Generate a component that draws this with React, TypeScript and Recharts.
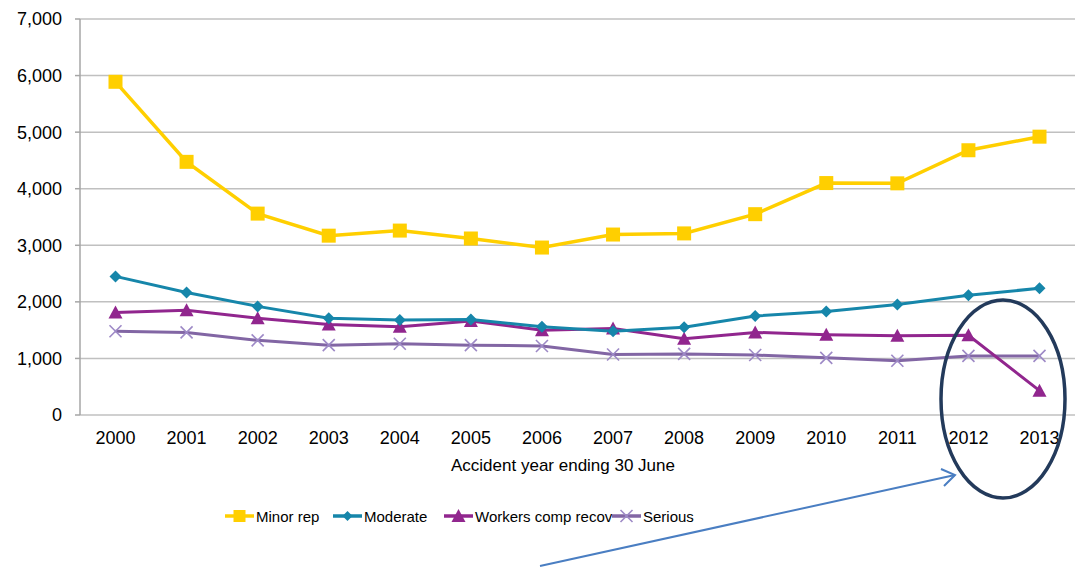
import React from "react";
import {
  LineChart,
  Line,
  XAxis,
  YAxis,
  CartesianGrid,
} from "recharts";

const YEARS = ["2000", "2001", "2002", "2003", "2004", "2005", "2006", "2007", "2008", "2009", "2010", "2011", "2012", "2013"];
const MINOR_REP = [5890, 4475, 3560, 3170, 3260, 3120, 2960, 3190, 3210, 3550, 4100, 4095, 4680, 4920];
const MODERATE = [2450, 2165, 1920, 1710, 1680, 1690, 1560, 1480, 1550, 1750, 1830, 1955, 2115, 2240];
const WORKERS_COMP = [1810, 1850, 1710, 1600, 1560, 1660, 1500, 1530, 1350, 1460, 1420, 1400, 1410, 430];
const SERIOUS = [1480, 1460, 1320, 1235, 1260, 1235, 1220, 1070, 1080, 1060, 1010, 960, 1045, 1045];
const Y_TICKS = [0, 1000, 2000, 3000, 4000, 5000, 6000, 7000];
const BOUNDARY_TICKS = [0, 1, 2, 3, 4, 5, 6, 7, 8, 9, 10, 11, 12, 13, 14];

const data = YEARS.map((year, i) => ({
  year,
  minor: MINOR_REP[i],
  moderate: MODERATE[i],
  workers: WORKERS_COMP[i],
  serious: SERIOUS[i],
}));

const FONT = "'Liberation Sans', Arial, sans-serif";
const YELLOW = "#FFCF00";
const TEAL = "#1686AA";
const PURPLE = "#91268E";
const LAVENDER = "#8266A4";
const LAVENDER_X = "#9D89C6";

const square = (color: string, s = 7) => (p: any) => (
  <rect key={`sq-${p.index}`} x={p.cx - s} y={p.cy - s} width={s * 2} height={s * 2} fill={color} />
);
const diamond = (color: string, s = 6) => (p: any) => (
  <polygon
    key={`di-${p.index}`}
    points={`${p.cx},${p.cy - s} ${p.cx + s},${p.cy} ${p.cx},${p.cy + s} ${p.cx - s},${p.cy}`}
    fill={color}
  />
);
const triangle = (color: string, s = 7) => (p: any) => (
  <polygon
    key={`tr-${p.index}`}
    points={`${p.cx},${p.cy - s} ${p.cx + s},${p.cy + s - 1} ${p.cx - s},${p.cy + s - 1}`}
    fill={color}
  />
);
const cross = (color: string, s = 6) => (p: any) => (
  <g key={`x-${p.index}`} stroke={color} strokeWidth={1.6}>
    <line x1={p.cx - s} y1={p.cy - s} x2={p.cx + s} y2={p.cy + s} />
    <line x1={p.cx - s} y1={p.cy + s} x2={p.cx + s} y2={p.cy - s} />
  </g>
);

const LEGEND = [
  { name: "Minor rep", color: YELLOW, marker: square(YELLOW, 6), x: 225 },
  { name: "Moderate", color: TEAL, marker: diamond(TEAL, 5), x: 333 },
  { name: "Workers comp recov", color: PURPLE, marker: triangle(PURPLE, 7), x: 444 },
  { name: "Serious", color: LAVENDER, marker: cross(LAVENDER_X, 6), x: 612 },
];

function Overlay() {
  return (
    <svg
      width={1076}
      height={568}
      style={{ position: "absolute", left: 0, top: 0, pointerEvents: "none" }}
    >
      <text x={563} y={471} textAnchor="middle" fontFamily={FONT} fontSize={17} fill="#000">
        Accident year ending 30 June
      </text>
      {LEGEND.map((l) => (
        <g key={l.name}>
          <line x1={l.x} y1={516} x2={l.x + 29} y2={516} stroke={l.color} strokeWidth={3.5} />
          {l.marker({ cx: l.x + 14.5, cy: 516, index: 0 })}
          <text x={l.x + 31} y={521.5} fontFamily={FONT} fontSize={15} fill="#000">
            {l.name}
          </text>
        </g>
      ))}
      <ellipse cx={1003} cy={399} rx={62} ry={99} fill="none" stroke="#233A5B" strokeWidth={3.5} />
      <line x1={540} y1={566} x2={955} y2={475} stroke="#4A7EC2" strokeWidth={2} />
      <polyline points="941,469 955,475 944,486" fill="none" stroke="#4A7EC2" strokeWidth={2} />
    </svg>
  );
}

export default function App() {
  return (
    <div style={{ position: "absolute", left: 0, top: 0, width: 1076, height: 568, background: "#fff" }}>
      <LineChart width={1076} height={568} data={data} margin={{ top: 19, right: 1, left: 0, bottom: 93 }}>
        <CartesianGrid vertical={false} stroke="#C0C0C0" strokeWidth={1.5} xAxisId="c" />
        <XAxis
          xAxisId="b"
          type="number"
          domain={[0, 14]}
          ticks={BOUNDARY_TICKS}
          allowDataOverflow
          tick={false}
          tickSize={6}
          height={0}
          axisLine={{ stroke: "#A6A6A6", strokeWidth: 1.5 }}
          tickLine={{ stroke: "#A6A6A6", strokeWidth: 1.5 }}
        />
        <XAxis
          xAxisId="c"
          dataKey="year"
          height={60}
          padding={{ left: 35.5, right: 35.5 }}
          axisLine={false}
          tickLine={false}
          tickSize={0}
          tickMargin={16}
          interval={0}
          tick={{ fill: "#000", fontSize: 18, fontFamily: FONT }}
        />
        <YAxis
          width={80}
          domain={[0, 7000]}
          ticks={Y_TICKS}
          tickSize={5}
          tickMargin={13}
          tickFormatter={(v) => v.toLocaleString("en-US")}
          tick={{ fill: "#000", fontSize: 18, fontFamily: FONT }}
          axisLine={{ stroke: "#A6A6A6", strokeWidth: 1.5 }}
          tickLine={{ stroke: "#A6A6A6", strokeWidth: 1.5 }}
        />
        <Line xAxisId="c" dataKey="serious" stroke={LAVENDER} strokeWidth={3} dot={cross(LAVENDER_X)} isAnimationActive={false} />
        <Line xAxisId="c" dataKey="workers" stroke={PURPLE} strokeWidth={3} dot={triangle(PURPLE)} isAnimationActive={false} />
        <Line xAxisId="c" dataKey="moderate" stroke={TEAL} strokeWidth={3} dot={diamond(TEAL)} isAnimationActive={false} />
        <Line xAxisId="c" dataKey="minor" stroke={YELLOW} strokeWidth={3.5} dot={square(YELLOW)} isAnimationActive={false} />
      </LineChart>
      <Overlay />
    </div>
  );
}
